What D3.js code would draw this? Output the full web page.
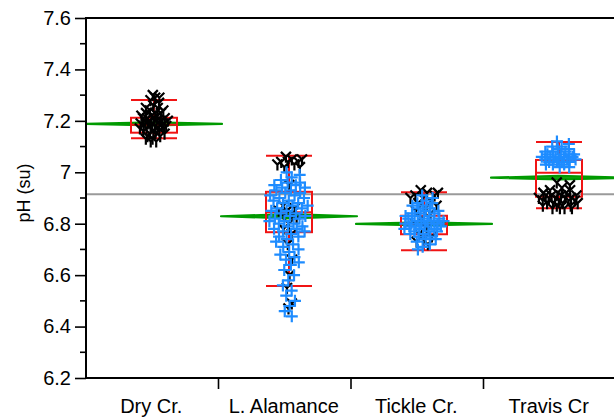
<!DOCTYPE html>
<html><head><meta charset="utf-8">
<script src="https://cdn.jsdelivr.net/npm/d3@7"></script>
<style>body{margin:0;background:#fff}svg{display:block}text{font-family:"Liberation Sans",Arial,sans-serif;fill:#000}</style>
</head><body><svg id="c" width="614" height="418"></svg>
<script>
const categories = ["Dry Cr.", "L. Alamance", "Tickle Cr.", "Travis Cr"];
const yTicks = [6.2, 6.4, 6.6, 6.8, 7, 7.2, 7.4, 7.6];
const referenceLine = 6.915;
const groupMeans = [7.188, 6.829, 6.799, 6.979];
const meanCI = [0.006, 0.008, 0.006, 0.007];
const boxStats = [ // [lowWhisker, q1, median, q3, highWhisker]
  [7.132, 7.154, 7.185, 7.212, 7.281],
  [6.558, 6.767, 6.845, 6.924, 7.064],
  [6.697, 6.759, 6.800, 6.831, 6.922],
  [6.860, 6.905, 6.998, 7.048, 7.118]
];
const blackDry = [7.30,7.29,7.29,7.28,7.27,7.26,7.25,7.25,7.24,7.24,7.23,7.23,7.23,7.22,7.22,7.22,7.21,7.21,7.21,7.21,7.20,7.20,7.20,7.20,7.20,7.19,7.19,7.19,7.19,7.19,7.18,7.18,7.18,7.18,7.18,7.17,7.17,7.17,7.17,7.16,7.16,7.16,7.15,7.15,7.15,7.14,7.14,7.13,7.13,7.12,7.12];
const blackAlamance = [7.06,7.05,7.05,7.04,7.04,7.04,7.03,7.03,7.02,7.02,6.95,6.87,6.86,6.85,6.85,6.84,6.83,6.82,6.80,6.78,6.76,6.72,6.66,6.60,6.55,6.49,6.47];
const blueAlamance = [7.00,6.99,6.98,6.97,6.96,6.96,6.95,6.95,6.94,6.94,6.93,6.93,6.92,6.92,6.91,6.91,6.90,6.90,6.89,6.89,6.88,6.88,6.87,6.87,6.86,6.86,6.85,6.85,6.84,6.84,6.83,6.83,6.82,6.82,6.81,6.81,6.80,6.80,6.79,6.79,6.78,6.78,6.77,6.77,6.76,6.75,6.75,6.74,6.73,6.72,6.71,6.70,6.69,6.68,6.67,6.66,6.65,6.64,6.62,6.60,6.58,6.56,6.54,6.52,6.50,6.48,6.46,6.44];
const blackTickle = [6.93,6.92,6.92,6.91,6.91,6.90,6.90,6.89,6.88,6.87,6.86,6.85,6.84,6.82,6.80,6.78,6.76,6.75,6.74,6.73,6.72];
const blueTickle = [6.91,6.90,6.89,6.88,6.88,6.87,6.87,6.86,6.86,6.85,6.85,6.84,6.84,6.84,6.83,6.83,6.83,6.82,6.82,6.82,6.81,6.81,6.81,6.81,6.80,6.80,6.80,6.80,6.80,6.79,6.79,6.79,6.79,6.78,6.78,6.78,6.77,6.77,6.77,6.76,6.76,6.75,6.75,6.74,6.74,6.73,6.72,6.71,6.70];
const blueTravis = [7.12,7.11,7.10,7.10,7.09,7.09,7.08,7.08,7.08,7.07,7.07,7.07,7.07,7.06,7.06,7.06,7.06,7.06,7.05,7.05,7.05,7.05,7.05,7.04,7.04,7.04,7.04,7.03,7.03,7.03,7.02,7.02];
const blackTravis = [6.96,6.95,6.94,6.93,6.93,6.92,6.92,6.92,6.91,6.91,6.91,6.91,6.90,6.90,6.90,6.90,6.90,6.89,6.89,6.89,6.89,6.88,6.88,6.88,6.88,6.87,6.87,6.87,6.86,6.86,6.86,6.86];

const blackSeries = [blackDry, blackAlamance, blackTickle, blackTravis];
const blueSeries = [[], blueAlamance, blueTickle, blueTravis];

const svg = d3.select("#c");
const L = 86, R = 616, T = 18, B = 378;
const y = d3.scaleLinear().domain([6.2, 7.6]).range([B, T]);
const xBand = d3.scaleBand().domain(categories).range([L, R]).padding(0);
const x = d3.scalePoint().domain(categories).range([154, 559]);

// reference line
svg.append("line").attr("x1", L).attr("x2", 614).attr("y1", y(referenceLine)).attr("y2", y(referenceLine))
  .attr("stroke", "#9a9a9a").attr("stroke-width", 2);

// mean diamonds
const half = 68;
categories.forEach((c, i) => {
  const cx = x(c), m = groupMeans[i], ci = meanCI[i];
  svg.append("path")
    .attr("d", `M${cx-half},${y(m)}L${cx},${y(m+ci)}L${cx+half},${y(m)}L${cx},${y(m-ci)}Z`)
    .attr("fill", "#16a016").attr("stroke", "#009a00").attr("stroke-width", 2.2).attr("stroke-linejoin", "round");
});

// box plots
const bw = 23;
categories.forEach((c, i) => {
  const cx = x(c), s = boxStats[i];
  const g = svg.append("g").attr("stroke", "#f01414").attr("stroke-width", 2).attr("fill", "none");
  g.append("rect").attr("x", cx-bw).attr("width", 2*bw).attr("y", y(s[3])).attr("height", y(s[1]) - y(s[3]));
  g.append("line").attr("x1", cx-bw).attr("x2", cx+bw).attr("y1", y(s[2])).attr("y2", y(s[2]));
  [s[0], s[4]].forEach(v => g.append("line").attr("x1", cx-bw).attr("x2", cx+bw).attr("y1", y(v)).attr("y2", y(v)));
  g.append("line").attr("x1", cx).attr("x2", cx).attr("y1", y(s[3])).attr("y2", y(s[4]));
  g.append("line").attr("x1", cx).attr("x2", cx).attr("y1", y(s[1])).attr("y2", y(s[0]));
});

// jitter (density-shaped, deterministic)
function jitterOffsets(vals, maxHalf, bwKDE) {
  const dens = vals.map(v => d3.sum(vals, u => Math.exp(-0.5 * ((v-u)/bwKDE)**2)));
  const mx = d3.max(dens) || 1;
  return vals.map((v, i) => {
    const f = ((i * 0.6180339887 + 0.37) % 1) * 2 - 1;
    return f * maxHalf * Math.pow(dens[i] / mx, 0.75);
  });
}
const yMark = "M-5,-5L0,0L5,-5M0,0L0,6";
const plus = "M-6,0L6,0M0,-6L0,6";
function drawPoints(series, path, color, maxHalf, kde) {
  categories.forEach((c, i) => {
    const vals = series[i];
    if (!vals.length) return;
    const offs = jitterOffsets(vals, maxHalf[i], kde);
    svg.append("g").selectAll("path").data(vals).join("path")
      .attr("transform", (v, j) => `translate(${x(c) + offs[j]},${y(v)})`)
      .attr("d", path).attr("fill", "none").attr("stroke", color).attr("stroke-width", 2.2);
  });
}
drawPoints(blackSeries, yMark, "#000", [15, 14, 16, 21], 0.03);
drawPoints(blueSeries, plus, "#1e8cff", [0, 20, 21, 18], 0.03);

// axes
const yAxis = d3.axisLeft(y).tickValues(yTicks).tickSize(11).tickPadding(4)
  .tickFormat(d => String(+d.toFixed(1)));
const ga = svg.append("g").attr("transform", `translate(${L},0)`).call(yAxis);
ga.select(".domain").remove();
ga.selectAll("text").style("font-size", "20px").style("font-family", "'Liberation Sans',Arial,sans-serif");
ga.selectAll("line").attr("stroke-width", 1.6);
const minor = d3.range(6.3, 7.6, 0.2);
svg.append("g").selectAll("line").data(minor).join("line")
  .attr("x1", L-6).attr("x2", L).attr("y1", d => y(d)).attr("y2", d => y(d))
  .attr("stroke", "#000").attr("stroke-width", 1.6);
svg.append("line").attr("x1", L).attr("x2", L).attr("y1", T-1).attr("y2", B+1).attr("stroke", "#000").attr("stroke-width", 2);
svg.append("line").attr("x1", L).attr("x2", 614).attr("y1", T).attr("y2", T).attr("stroke", "#000").attr("stroke-width", 2);
svg.append("line").attr("x1", L).attr("x2", 614).attr("y1", B).attr("y2", B).attr("stroke", "#000").attr("stroke-width", 2);
svg.append("g").selectAll("line").data(categories.slice(1)).join("line")
  .attr("x1", d => xBand(d)).attr("x2", d => xBand(d)).attr("y1", B).attr("y2", B+11)
  .attr("stroke", "#000").attr("stroke-width", 1.6);
svg.append("g").selectAll("text").data(categories).join("text")
  .attr("x", d => xBand(d) + xBand.bandwidth()/2 - 1).attr("y", 413)
  .attr("text-anchor", "middle").style("font-size", "20px").text(d => d);
svg.append("text").attr("transform", "translate(30,193) rotate(-90)")
  .attr("text-anchor", "middle").style("font-size", "18px").text("pH (su)");
</script></body></html>
